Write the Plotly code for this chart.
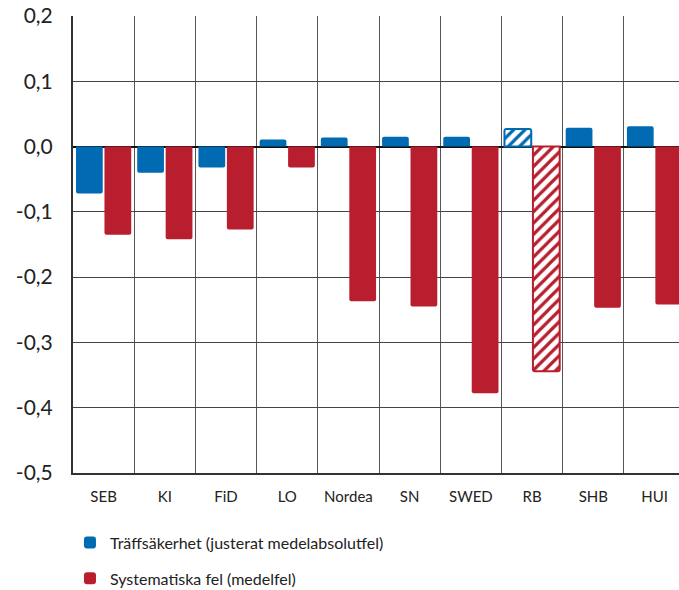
import plotly.graph_objects as go

categories = ["SEB", "KI", "FiD", "LO", "Nordea", "SN", "SWED", "RB", "SHB", "HUI"]
traff = [-0.072, -0.040, -0.032, 0.011, 0.014, 0.015, 0.015, 0.027, 0.029, 0.031]
syst = [-0.135, -0.142, -0.127, -0.032, -0.237, -0.245, -0.378, -0.344, -0.247, -0.242]
hatched = ["RB"]
ytick_vals = [0.2, 0.1, 0.0, -0.1, -0.2, -0.3, -0.4, -0.5]
ytick_text = ["0,2", "0,1", "0,0", "-0,1", "-0,2", "-0,3", "-0,4", "-0,5"]
names = ["Träffsäkerhet (justerat medelabsolutfel)", "Systematiska fel (medelfel)"]

BLUE = "#006AB3"
RED = "#B81E2D"
FONT = "Lato"


def make_bar(vals, color, name, group):
    shapes = ["/" if c in hatched else "" for c in categories]
    bgs = ["white" if c in hatched else color for c in categories]
    fgs = [color for c in categories]
    lines = [color if c in hatched else "rgba(0,0,0,0)" for c in categories]
    widths = [2 if c in hatched else 0 for c in categories]
    return go.Bar(
        x=categories, y=vals, name=name, legendgroup=group,
        marker=dict(
            color=color,
            line=dict(color=lines, width=widths),
            pattern=dict(shape=shapes, fgcolor=fgs, bgcolor=bgs,
                         size=8, solidity=0.4, fillmode="replace"),
            cornerradius=2,
        ),
    )


fig = go.Figure()
fig.add_trace(make_bar(traff, BLUE, names[0], "a"))
fig.add_trace(make_bar(syst, RED, names[1], "b"))

n = len(categories)
fig.update_layout(
    width=679, height=590,
    margin=dict(l=73, r=0, t=16, b=117, autoexpand=False),
    paper_bgcolor="white", plot_bgcolor="white",
    barmode="group", bargap=0.07, bargroupgap=0.06,
    font=dict(family=FONT, color="#222"),
    showlegend=True,
    legend=dict(x=-0.005, y=-0.115, xanchor="left", yanchor="top",
                font=dict(size=16, family=FONT, color="#222"),
                traceorder="grouped", tracegroupgap=12,
                bgcolor="rgba(0,0,0,0)"),
)
fig.update_xaxes(
    type="category", range=[-0.5, n - 0.5 - 0.1], automargin=False,
    tickson="boundaries", showgrid=True, gridcolor="#555", gridwidth=1,
    ticks="", ticklabelstandoff=9,
    tickfont=dict(size=15, family=FONT, color="#222"),
    showline=True, linecolor="#333", linewidth=1.5, zeroline=False,
)
fig.update_yaxes(
    range=[-0.5, 0.2], tickvals=ytick_vals, ticktext=ytick_text, automargin=False,
    showgrid=True, gridcolor="#444", gridwidth=1,
    zeroline=True, zerolinecolor="#111", zerolinewidth=1.5,
    ticks="outside", ticklen=14, tickcolor="rgba(0,0,0,0)",
    tickfont=dict(size=21, family=FONT, color="#222"),
    showline=True, linecolor="#333", linewidth=2, mirror=False,
)
fig.write_html("out.html")
